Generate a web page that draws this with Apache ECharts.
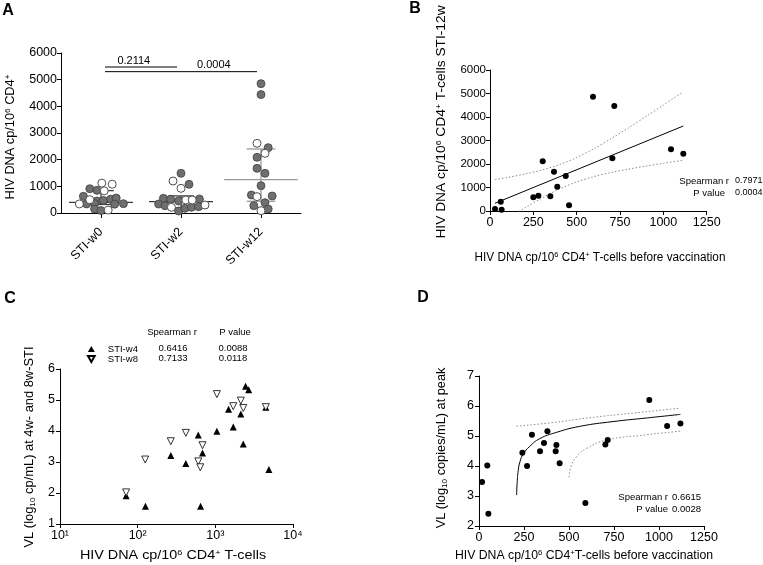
<!DOCTYPE html>
<html><head><meta charset="utf-8">
<script src="https://cdn.jsdelivr.net/npm/echarts@6/dist/echarts.min.js"></script>
<style>html,body{margin:0;padding:0;background:#fff}#c{width:763px;height:565px}</style>
</head><body><div id="c"></div>
<script>
// ---------- Panel A ----------
const aCategories = ['STI-w0', 'STI-w2', 'STI-w12'];
const aW0Values = [1120, 1080, 910, 850, 830, 625, 500, 450, 470, 520, 560, 340, 340, 350, 330, 350, 150, 90, 110];
const aW0Jitter = [0.01, 0.14, -0.14, -0.05, 0.04, -0.22, -0.14, -0.05, 0.03, 0.12, 0.19, -0.27, -0.18, -0.08, 0.17, 0.28, -0.08, 0.0, 0.09];
const aW0Open   = [1, 1, 0, 0, 1, 0, 1, 0, 0, 0, 0, 1, 0, 0, 0, 0, 0, 0, 1];
const aW2Values = [1488, 1200, 1075, 925, 550, 515, 450, 487, 487, 525, 337, 275, 213, 75, 176, 213, 237, 300];
const aW2Jitter = [0, -0.1, 0.1, 0, -0.22, -0.13, -0.03, 0.06, 0.14, 0.23, -0.28, -0.2, -0.12, -0.03, 0.05, 0.13, 0.22, 0.3];
const aW2Open   = [0, 1, 0, 1, 0, 0, 0, 1, 1, 0, 0, 0, 1, 0, 0, 0, 0, 1];
const aW12Values = [4850, 4440, 2613, 2450, 2238, 2088, 1675, 1488, 1025, 675, 613, 638, 275, 388, 150, 88];
const aW12Jitter = [0, 0, -0.05, 0.09, 0.05, -0.05, -0.05, 0.05, 0, -0.12, -0.05, 0.14, -0.09, 0.05, 0.09, 0];
const aW12Open   = [0, 0, 1, 0, 1, 0, 0, 0, 0, 0, 1, 0, 0, 0, 0, 1];
const aMedian = [400, 430, 1250];
const aQ1 = [320, 190, 440];
const aQ3 = [840, 640, 2400];
const aPValues = ['0.2114', '0.0004'];
const aPFrom = [0, 0];
const aPTo = [1, 2];
const aPLevel = [5475, 5300];

// ---------- Panel B ----------
const bX = [29, 62, 67, 250, 279, 304, 348, 369, 388, 437, 456, 594, 706, 717, 1044, 1115];
const bY = [85, 397, 55, 583, 651, 2115, 625, 1672, 1034, 1489, 243, 4864, 2243, 4468, 2626, 2438];
const bFitX = [29, 1115];
const bFitY = [330, 3617];
const bBandX = [29, 100, 200, 300, 400, 500, 600, 700, 800, 900, 1000, 1115];
const bBandUpper = [1333, 1425, 1570, 1744, 1971, 2274, 2652, 3083, 3544, 4022, 4508, 5075];
const bBandLower = [-673, -335, 126, 556, 935, 1238, 1464, 1639, 1784, 1912, 2030, 2159];
const bSpearman = '0.7971', bP = '0.0004';

// ---------- Panel C ----------
const cXTickLabels = ['10\u00b9', '10\u00b2', '10\u00b3', '10\u2074'];
const cW4X = [71, 126, 267, 417, 603, 645, 684, 1047, 1480, 1700, 2130, 2290, 2450, 2690, 4470, 4890];
const cW4Y = [1.91, 1.57, 3.21, 2.95, 3.87, 1.57, 3.29, 3.99, 4.70, 4.13, 4.55, 3.58, 5.44, 5.33, 4.77, 2.76];
const cW8X = [71, 125, 267, 417, 603, 640, 684, 1047, 1700, 2130, 2290, 4470];
const cW8Y = [2.02, 3.08, 3.67, 3.94, 3.02, 2.83, 3.54, 5.19, 4.80, 4.98, 4.74, 4.77];
const cSeriesNames = ['STI-w4', 'STI-w8'];
const cSpearman = ['0.6416', '0.7133'];
const cP = ['0.0088', '0.0118'];

// ---------- Panel D ----------
const dX = [17, 46, 52, 241, 267, 294, 339, 361, 380, 426, 430, 448, 591, 702, 715, 946, 1045, 1119];
const dY = [3.47, 4.02, 2.41, 4.44, 4.0, 5.04, 4.49, 4.77, 5.16, 4.49, 4.70, 4.09, 2.77, 4.72, 4.87, 6.2, 5.33, 5.42];
const dFitX = [209, 212, 218, 228, 246, 281, 337, 430, 559, 744, 930, 1119];
const dFitY = [3.03, 3.45, 3.85, 4.15, 4.40, 4.65, 4.91, 5.12, 5.32, 5.48, 5.60, 5.72];
const dUpperX = [209, 400, 617, 850, 1119];
const dUpperY = [5.33, 5.44, 5.61, 5.76, 5.93];
const dLowerX = [500, 512, 541, 596, 707, 930, 1119];
const dLowerY = [3.63, 4.0, 4.3, 4.58, 4.86, 5.04, 5.16];
const dSpearman = '0.6615', dP = '0.0028';

// ---------- build ----------
const FONT = '"Liberation Sans", Arial, Helvetica, sans-serif';
const zip = (xs, ys) => xs.map((x, i) => [x, ys[i]]);
const plain = v => String(v);

function groupPoints(idx, vals, jit, open, wantOpen) {
  const out = [];
  vals.forEach((v, i) => { if (!!open[i] === wantOpen) out.push([idx + jit[i], v]); });
  return out;
}
const aFilled = [].concat(
  groupPoints(0, aW0Values, aW0Jitter, aW0Open, false),
  groupPoints(1, aW2Values, aW2Jitter, aW2Open, false),
  groupPoints(2, aW12Values, aW12Jitter, aW12Open, false));
const aOpenPts = [].concat(
  groupPoints(0, aW0Values, aW0Jitter, aW0Open, true),
  groupPoints(1, aW2Values, aW2Jitter, aW2Open, true),
  groupPoints(2, aW12Values, aW12Jitter, aW12Open, true));

function axisBase(extra, labelExtra) {
  return Object.assign({
    axisLine: { show: true, onZero: false, lineStyle: { color: '#000', width: 1 } },
    axisTick: { show: true, length: 4, lineStyle: { color: '#000', width: 1 } },
    axisLabel: Object.assign({ color: '#000', fontSize: 12, fontFamily: FONT, margin: 5, formatter: plain }, labelExtra || {}),
    splitLine: { show: false }
  }, extra);
}

const supRich = {
  n: { fontSize: 12.5, fontFamily: FONT, color: '#000' },
  s: { fontSize: 8, fontFamily: FONT, color: '#000', verticalAlign: 'top', padding: [0, 0, 6, 0] },
  b: { fontSize: 8, fontFamily: FONT, color: '#000', verticalAlign: 'bottom', padding: [4, 0, 0, 0] }
};
function title(x, y, text, rot, stretch) {
  return { type: 'text', x: x, y: y, rotation: rot ? Math.PI / 2 : 0, scaleX: stretch || 1,
    style: { text: text, rich: supRich, align: 'center', verticalAlign: 'middle', font: '12.5px ' + FONT, fill: '#000' } };
}
function smallText(x, y, text, align, size) {
  return { type: 'text', x: x, y: y, style: { text: text, align: align, verticalAlign: 'middle', font: (size || 9.5) + 'px ' + FONT, fill: '#000' } };
}
function letter(x, y, t) {
  return { type: 'text', x: x, y: y, style: { text: t, align: 'center', verticalAlign: 'middle', font: 'bold 16px ' + FONT, fill: '#000' } };
}
const dotted = { color: '#8a8a8a', width: 1, type: [1.5, 2] };

const option = {
  animation: false,
  backgroundColor: '#fff',
  grid: [
    { left: 61, top: 53, width: 240, height: 160 },
    { left: 490, top: 70, width: 216.7, height: 141 },
    { left: 60, top: 369, width: 233, height: 155 },
    { left: 479, top: 376, width: 225, height: 150 }
  ],
  xAxis: [
    axisBase({ type: 'category', gridIndex: 0, data: aCategories, boundaryGap: true,
      axisTick: { show: true, alignWithLabel: true, length: 5, lineStyle: { color: '#000' } } },
      { fontSize: 12.5, rotate: 45, margin: 17, formatter: null }),
    { type: 'value', gridIndex: 0, min: -0.5, max: 2.5, show: false },
    axisBase({ type: 'value', gridIndex: 1, min: 0, max: 1250, interval: 250 }, { fontSize: 12.5 }),
    axisBase({ type: 'log', gridIndex: 2, min: 10, max: 10000, logBase: 10, minorTick: { show: false } },
      { fontSize: 12.5, formatter: v => cXTickLabels[Math.round(Math.log10(v)) - 1] }),
    axisBase({ type: 'value', gridIndex: 3, min: 0, max: 1250, interval: 250 }, { fontSize: 12.5 })
  ],
  yAxis: [
    axisBase({ type: 'value', gridIndex: 0, min: 0, max: 6000, interval: 1000 }, { fontSize: 12.5, margin: 4 }),
    axisBase({ type: 'value', gridIndex: 1, min: 0, max: 6000, interval: 1000 }, { fontSize: 11.5, margin: 4 }),
    axisBase({ type: 'value', gridIndex: 2, min: 1, max: 6, interval: 1 }, { fontSize: 12.5 }),
    axisBase({ type: 'value', gridIndex: 3, min: 2, max: 7, interval: 1 }, { fontSize: 12.5 })
  ],
  legend: {
    data: [
      { name: cSeriesNames[0], icon: 'triangle' },
      { name: cSeriesNames[1], icon: 'path://M0,0L10,0L5,9Z' }
    ],
    orient: 'vertical', left: 82, top: 339, itemWidth: 7, itemHeight: 6, itemGap: 0,
    textStyle: { fontSize: 9.5, lineHeight: 10, fontFamily: FONT, color: '#000', padding: [0, 0, 0, 8] }
  },
  series: [
    // A: error bars (median + IQR)
    {
      type: 'custom', xAxisIndex: 1, yAxisIndex: 0,
      data: aCategories.map((c, i) => [i, aQ1[i], aMedian[i], aQ3[i]]),
      encode: { x: 0, y: [1, 2, 3] },
      z: 1,
      renderItem: function (params, api) {
        const i = api.value(0);
        const color = i === 2 ? '#9a9a9a' : '#3a3a3a';
        const mw = i === 2 ? 0.46 : 0.4, bw = i === 2 ? 0.18 : 0.16;
        const q1 = api.value(1), med = api.value(2), q3 = api.value(3);
        const seg = (x1, y1, x2, y2) => {
          const p1 = api.coord([x1, y1]), p2 = api.coord([x2, y2]);
          return { type: 'line', shape: { x1: p1[0], y1: p1[1], x2: p2[0], y2: p2[1] },
            style: { stroke: color, lineWidth: 1.3 } };
        };
        return { type: 'group', children: [
          seg(i, q1, i, q3), seg(i - mw, med, i + mw, med),
          seg(i - bw, q3, i + bw, q3), seg(i - bw, q1, i + bw, q1)
        ] };
      }
    },
    // A: filled points
    { type: 'scatter', xAxisIndex: 1, yAxisIndex: 0, data: aFilled, symbolSize: 8, z: 3,
      itemStyle: { color: '#6f6f6f', borderColor: '#404040', borderWidth: 0.8, opacity: 1 } },
    // A: open points
    { type: 'scatter', xAxisIndex: 1, yAxisIndex: 0, data: aOpenPts, symbolSize: 8, z: 3,
      itemStyle: { color: '#fff', borderColor: '#505050', borderWidth: 1, opacity: 1 } },
    // A: comparison brackets
    {
      type: 'custom', xAxisIndex: 1, yAxisIndex: 0,
      data: aPValues.map((p, i) => [aPFrom[i], aPTo[i], aPLevel[i], i]),
      encode: { x: [0, 1], y: 2 },
      renderItem: function (params, api) {
        const f = api.value(0), t = api.value(1), lv = api.value(2), k = api.value(3);
        const p1 = api.coord([f + 0.05, lv]), p2 = api.coord([t - 0.05, lv]);
        const lx = api.coord([f + 0.41 + k, lv]);
        return { type: 'group', children: [
          { type: 'line', shape: { x1: p1[0], y1: p1[1], x2: p2[0], y2: p2[1] }, style: { stroke: '#000', lineWidth: 1 } },
          { type: 'text', x: lx[0], y: p1[1] - 1, style: { text: aPValues[k], align: 'center', verticalAlign: 'bottom', font: '11px ' + FONT, fill: '#000' } }
        ] };
      }
    },
    // B
    { type: 'line', xAxisIndex: 2, yAxisIndex: 1, data: zip(bBandX, bBandUpper), symbol: 'none', smooth: 0.3, lineStyle: dotted },
    { type: 'line', xAxisIndex: 2, yAxisIndex: 1, data: zip(bBandX, bBandLower), symbol: 'none', smooth: 0.3, lineStyle: dotted },
    { type: 'line', xAxisIndex: 2, yAxisIndex: 1, data: zip(bFitX, bFitY), symbol: 'none',
      lineStyle: { color: '#000', width: 1 } },
    { type: 'scatter', xAxisIndex: 2, yAxisIndex: 1, data: zip(bX, bY), symbolSize: 6, z: 4,
      itemStyle: { color: '#000', opacity: 1 } },
    // C
    { name: cSeriesNames[0], type: 'scatter', xAxisIndex: 3, yAxisIndex: 2, data: zip(cW4X, cW4Y),
      symbol: 'triangle', symbolSize: 7, z: 3, itemStyle: { color: '#000', opacity: 1 } },
    { name: cSeriesNames[1], type: 'scatter', xAxisIndex: 3, yAxisIndex: 2, data: zip(cW8X, cW8Y),
      symbol: 'triangle', symbolRotate: 180, symbolSize: 7, z: 4,
      itemStyle: { color: '#fff', borderColor: '#000', borderWidth: 0.8, opacity: 1 } },
    // D
    { type: 'line', xAxisIndex: 4, yAxisIndex: 3, data: zip(dUpperX, dUpperY), symbol: 'none', smooth: true, lineStyle: dotted },
    { type: 'line', xAxisIndex: 4, yAxisIndex: 3, data: zip(dLowerX, dLowerY), symbol: 'none', smooth: true, lineStyle: dotted },
    { type: 'line', xAxisIndex: 4, yAxisIndex: 3, data: zip(dFitX, dFitY), symbol: 'none', smooth: true,
      lineStyle: { color: '#000', width: 1 } },
    { type: 'scatter', xAxisIndex: 4, yAxisIndex: 3, data: zip(dX, dY), symbolSize: 6, z: 4,
      itemStyle: { color: '#000', opacity: 1 } }
  ],
  graphic: [
    letter(8, 11, 'A'), letter(415, 9, 'B'), letter(10, 299, 'C'), letter(423, 298, 'D'),
    title(11, 137, '{n|HIV DNA cp/10}{s|6}{n| CD4}{s|+}', true, 1.02),
    title(442, 122, '{n|HIV DNA cp/10}{s|6}{n| CD4}{s|+}{n| T-cells STI-12w}', true, 1.10),
    title(600, 258, '{n|HIV DNA cp/10}{s|6}{n| CD4}{s|+}{n| T-cells before vaccination}', false, 0.94),
    title(30, 447, '{n|VL (log}{b|10}{n| cp/mL) at 4w- and 8w-STI}', true, 1.03),
    title(173, 556, '{n|HIV DNA cp/10}{s|6}{n| CD4}{s|+}{n| T-cells}', false, 1.15),
    title(442, 448, '{n|VL (log}{b|10}{n| copies/mL) at peak}', true, 1.02),
    title(584, 556, '{n|HIV DNA cp/10}{s|6}{n| CD4}{s|+}{n|T-cells before vaccination}', false, 0.98),
    smallText(729, 181, 'Spearman r', 'right'), smallText(735, 181, bSpearman, 'left', 9),
    smallText(725, 193, 'P value', 'right'), smallText(735, 193, bP, 'left', 9),
    smallText(668, 497, 'Spearman r', 'right'), smallText(672, 497, dSpearman, 'left'),
    smallText(668, 509, 'P value', 'right'), smallText(672, 509, dP, 'left'),
    smallText(172, 332, 'Spearman r', 'center'), smallText(235, 332, 'P value', 'center'),
    smallText(173, 348, cSpearman[0], 'center'), smallText(233, 348, cP[0], 'center'),
    smallText(173, 358, cSpearman[1], 'center'), smallText(233, 358, cP[1], 'center')
  ]
};
const chart = echarts.init(document.getElementById('c'), null, { renderer: 'canvas' });
chart.setOption(option);
</script>
</body></html>
